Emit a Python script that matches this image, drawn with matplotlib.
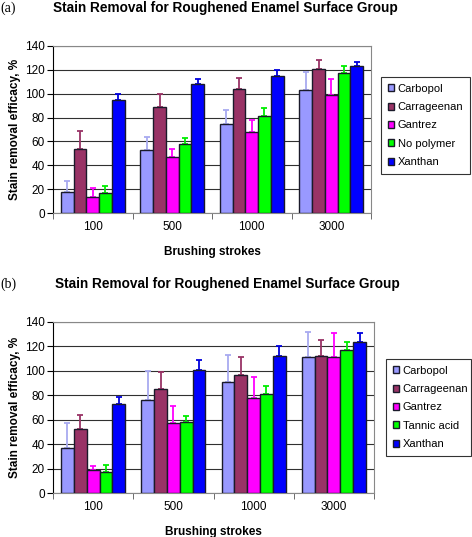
import numpy as np
import matplotlib
matplotlib.use("Agg")
import matplotlib.pyplot as plt

strokes = ["100", "500", "1000", "3000"]

# panel (a)
series_a = ["Carbopol", "Carrageenan", "Gantrez", "No polymer", "Xanthan"]
means_a = [
    [18, 53, 75, 103],
    [54, 89, 104, 121],
    [13, 47, 68, 99],
    [17, 58, 81, 117],
    [95, 108, 115, 123],
]
tops_a = [
    [27, 64, 86, 118],
    [69, 100, 113, 128],
    [21, 54, 78, 112],
    [23, 63, 88, 123],
    [100, 112, 120, 127],
]

# panel (b)
series_b = ["Carbopol", "Carrageenan", "Gantrez", "Tannic acid", "Xanthan"]
means_b = [
    [37, 76, 91, 111],
    [52, 85, 97, 112],
    [19, 57, 78, 111],
    [17, 58, 81, 117],
    [73, 101, 112, 124],
]
tops_b = [
    [57, 100, 113, 132],
    [64, 99, 111, 125],
    [22, 71, 95, 131],
    [23, 63, 88, 124],
    [79, 109, 120, 131],
]

bar_colors = ["#9999ff", "#993366", "#ff00ff", "#00ff00", "#0000ff"]
err_colors = ["#a8aaf0", "#993366", "#ff00ff", "#00ee00", "#0000dd"]

W, H = 472, 537
plt.rcParams["font.family"] = ["Liberation Sans", "DejaVu Sans"]
fig = plt.figure(figsize=(W / 100, H / 100), dpi=100)
fig.patch.set_facecolor("white")


def px_axes(x0, y0, x1, y1):
    return fig.add_axes([x0 / W, 1 - y1 / H, (x1 - x0) / W, (y1 - y0) / H])


def draw_panel(ax, names, means, tops, legend_box, title_x, title_y, tag):
    x = np.arange(len(strokes))
    bw = 0.16
    for i, name in enumerate(names):
        pos = x + (i - 2) * bw
        m = np.array(means[i])
        t = np.array(tops[i])
        ax.bar(pos, m, bw, color=bar_colors[i], edgecolor="#1a1a2a",
               linewidth=1.0, label=name, zorder=3)
        ax.errorbar(pos, m, yerr=[np.zeros_like(m), t - m], fmt="none",
                    ecolor=err_colors[i], elinewidth=1.3, capsize=2.5,
                    capthick=1.3, zorder=2)
    ax.set_xlim(-0.5, 3.5)
    ax.set_ylim(0, 140)
    ax.set_yticks(range(0, 141, 20))
    ax.set_xticks(x)
    ax.set_xticklabels(strokes)
    ax.set_xticks(np.arange(-0.5, 3.6, 1), minor=True)
    ax.tick_params(axis="x", which="major", length=0, pad=6, labelsize=8.5)
    ax.tick_params(axis="x", which="minor", length=4, color="#555555", direction="out")
    ax.tick_params(axis="y", length=4, labelsize=8.5, pad=2)
    ax.yaxis.grid(True, color="#303030", linewidth=0.8)
    ax.set_axisbelow(True)
    for s in ["top", "right", "bottom"]:
        ax.spines[s].set_color("#888888")
    ax.spines["left"].set_color("black")
    ax.set_xlabel("Brushing strokes", fontweight="bold", fontsize=8.5, labelpad=9)
    ax.set_ylabel("Stain removal efficacy, %", fontweight="bold", fontsize=8.5, labelpad=3)

    lx0, ly0, lx1, ly1 = legend_box
    leg = ax.legend(loc="upper left",
                    bbox_to_anchor=(lx0 / W, 1 - ly1 / H, (lx1 - lx0) / W, (ly1 - ly0) / H),
                    bbox_transform=fig.transFigure, mode="expand",
                    fontsize=8, frameon=True, fancybox=False, borderaxespad=0,
                    handlelength=0.6, handleheight=0.6, handletextpad=0.3,
                    labelspacing=0.75, borderpad=0.6)
    leg.get_frame().set_edgecolor("black")
    leg.get_frame().set_linewidth(0.8)

    fig.text(title_x / W, 1 - title_y / H, "Stain Removal for Roughened Enamel Surface Group",
             fontweight="bold", fontsize=9.8, va="center", ha="left")
    fig.text(0, 1 - title_y / H, tag, family="Liberation Serif", fontsize=10,
             va="center", ha="left")


ax_a = px_axes(53, 46, 371, 213)
draw_panel(ax_a, series_a, means_a, tops_a, (381, 77, 470, 178), 53, 8, "(a)")

ax_b = px_axes(53, 322, 374, 493)
draw_panel(ax_b, series_b, means_b, tops_b, (386, 359, 471, 457), 55, 284, "(b)")

fig.savefig("out.png", dpi=100)
